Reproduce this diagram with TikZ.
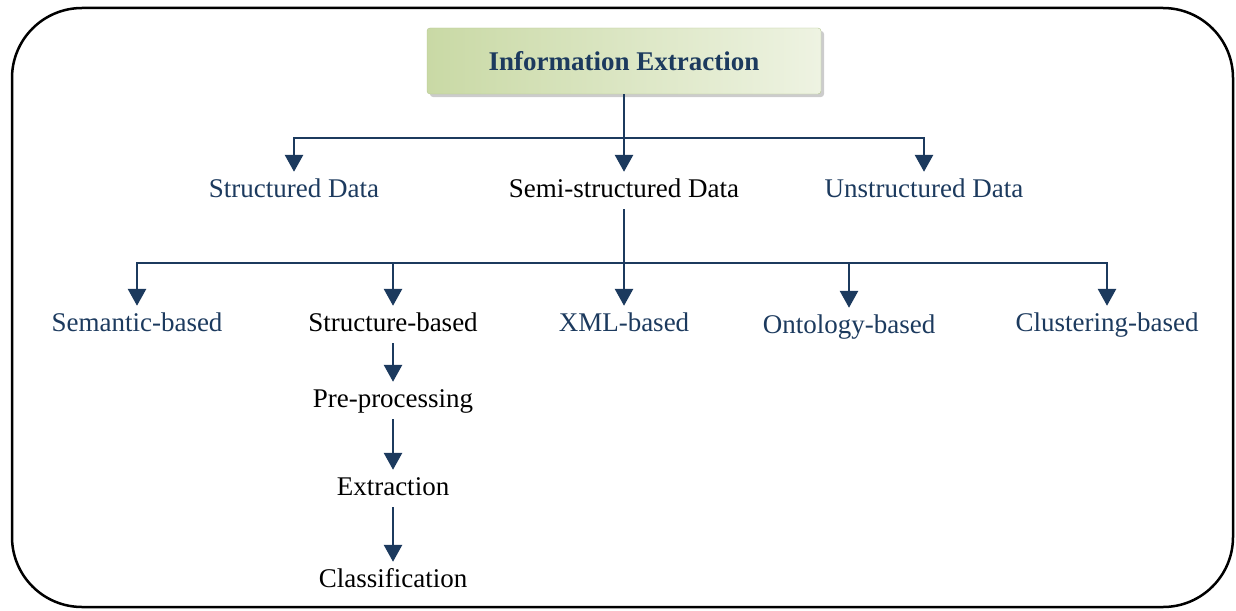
\documentclass[tikz,border=0pt]{standalone}
\usepackage{fontspec}
\setmainfont{Liberation Serif}
\usetikzlibrary{arrows.meta}
\usetikzlibrary{shadows}
\definecolor{navy}{HTML}{1C3A5E}
\definecolor{boxlight}{HTML}{EEF3E2}
\definecolor{boxdark}{HTML}{C9D9A5}
\definecolor{boxedge}{HTML}{B5C692}

\begin{document}
\begin{tikzpicture}[x=1pt,y=-1pt,
    lbl/.style={anchor=base, font=\fontsize{27}{31}\selectfont,
      text height=19pt, text depth=6pt, inner sep=6pt},
    blue lbl/.style={lbl, text=navy},
    link/.style={draw=navy, line width=2.8pt},
    arr/.style={link, -{Triangle[length=17pt,width=18pt]}}]

  \useasboundingbox (0,0) rectangle (1236,610);
  \draw[line width=2.5pt, rounded corners=70pt] (12,8) rectangle (1233,607);

  \node (ie) [minimum width=394pt, minimum height=66pt,
    left color=boxdark, right color=boxlight, draw=boxedge,
    rounded corners=3pt,
    drop shadow={shadow xshift=3pt, shadow yshift=-3pt, fill=black!40},
    font=\fontsize{27}{31}\selectfont\bfseries, text=navy]
    at (624,61) {Information Extraction};

  % data types
  \node (sd) [blue lbl] at (294,197) {Structured Data};
  \node (ssd) [lbl] at (624,197) {Semi-structured Data};
  \node (ud) [blue lbl] at (924,197) {Unstructured Data};

  \coordinate (bus1) at (624,138);
  \draw[link] (ie.south) -- (bus1);
  \draw[arr] (bus1) -| (sd.north);
  \draw[arr] (bus1) -- (ssd.north);
  \draw[arr] (bus1) -| (ud.north);

  % approaches
  \node (sem) [blue lbl] at (137,331) {Semantic-based};
  \node (str) [lbl] at (393,331) {Structure-based};
  \node (xml) [blue lbl] at (624,331) {XML-based};
  \node (ont) [blue lbl] at (849,333) {Ontology-based};
  \node (clu) [blue lbl] at (1107,331) {Clustering-based};

  \coordinate (bus2) at (624,263);
  \draw[link] (ssd.south) -- (bus2);
  \draw[arr] (bus2) -| (sem.north);
  \draw[arr] (bus2) -| (str.north);
  \draw[arr] (bus2) -- (xml.north);
  \draw[arr] (bus2) -| (ont.north);
  \draw[arr] (bus2) -| (clu.north);

  % structure-based steps
  \node (pre) [lbl] at (393,407) {Pre-processing};
  \node (ext) [lbl] at (393,495) {Extraction};
  \node (cls) [lbl] at (393,587) {Classification};
  \draw[arr] (str) -- (pre);
  \draw[arr] (pre) -- (ext);
  \draw[arr] (ext) -- (cls);
\end{tikzpicture}
\end{document}
